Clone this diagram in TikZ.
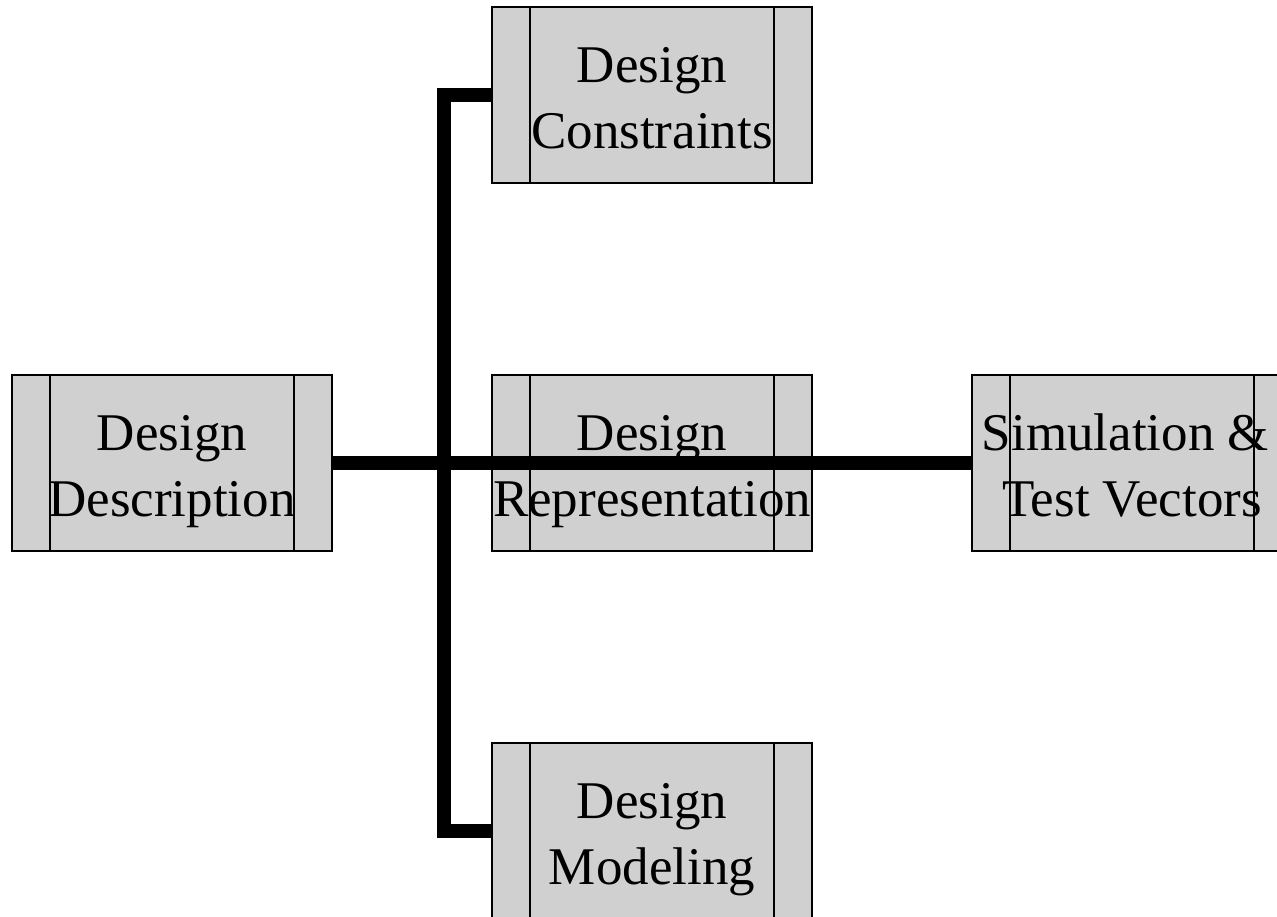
\documentclass[tikz,border=0pt]{standalone}
\usepackage{fontspec}
\setmainfont{Liberation Serif}
\definecolor{boxgray}{RGB}{208,208,208}
\begin{document}
\begin{tikzpicture}[x=1pt,y=-1pt,
  blk/.style={draw=black, line width=1.6pt, fill=boxgray, minimum width=320pt, minimum height=176pt, inner sep=0pt, outer sep=0pt},
  sideline/.style={draw=black, line width=1.6pt},
  lbl/.style={align=center, font=\fontsize{53}{66}\selectfont, inner sep=0pt, anchor=base},
  wire/.style={line width=14pt, black}]
\useasboundingbox (0,0) rectangle (1277,916);
\clip (0,0) rectangle (1277,916);
% boxes
\node[blk] (con) at (652,95) {};
\node[blk] (desc) at (172,463) {};
\node[blk] (rep) at (652,463) {};
\node[blk] (sim) at (1132,463) {};
\node[blk] (mod) at (652,831) {};
\foreach \b in {con,desc,rep,sim,mod}{
  \draw[sideline] ([xshift=-122pt]\b.north) -- ([xshift=-122pt]\b.south);
  \draw[sideline] ([xshift=122pt]\b.north) -- ([xshift=122pt]\b.south);
}
% labels (anchor = baseline of the last line)
\node[lbl] (conT) at (652,148) {Design\\Constraints};
\node[lbl] (descT) at (172,516) {Design\\Description};
\node[lbl] (repT) at (652,516) {Design\\Representation};
\node[lbl] (simT) at (1132,516) {Simulation \&\kern.25em\\Test Vectors};
\node[lbl] (modT) at (652,884) {Design\\Modeling};
% connectors
\coordinate (bus) at (444,463);
\draw[wire] (desc.east) -- (sim.west);
\draw[wire] (con.west) -- (con.west -| bus) -- (mod.west -| bus) -- (mod.west);
\end{tikzpicture}
\end{document}
